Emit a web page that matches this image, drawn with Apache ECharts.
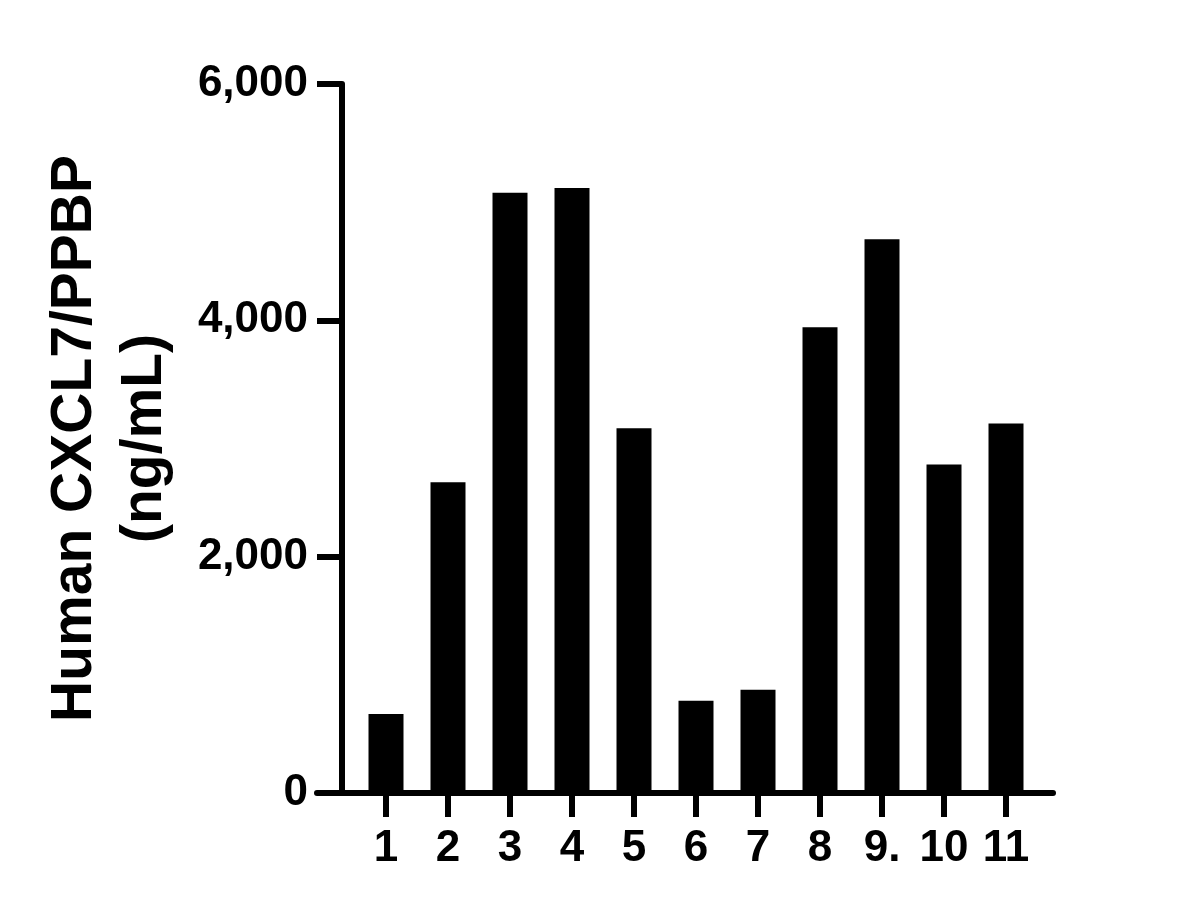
<!DOCTYPE html>
<html>
<head>
<meta charset="utf-8">
<script src="https://cdn.jsdelivr.net/npm/echarts@6/dist/echarts.min.js"></script>
<style>
html,body{margin:0;padding:0;background:#fff;}
#chart{width:1189px;height:909px;}
</style>
</head>
<body>
<div id="chart"></div>
<script>
const categories = ['1', '2', '3', '4', '5', '6', '7', '8', '9.', '10', '11'];
const values = [669, 2630, 5079, 5119, 3087, 780, 873, 3941, 4686, 2780, 3127];
const yTicks = [0, 2000, 4000, 6000];
const yTitle = 'Human CXCL7/PPBP\n(ng/mL)';

const positions = categories.map((c, i) => i + 1);
const FONT = '"Liberation Sans", Arial, Helvetica, sans-serif';

const chart = echarts.init(document.getElementById('chart'), null, {renderer: 'canvas'});
chart.setOption({
  animation: false,
  backgroundColor: '#ffffff',
  grid: {left: 317, right: 136, top: 84, bottom: 116, containLabel: false, outerBoundsMode: 'none'},
  xAxis: {
    type: 'value',
    min: -0.113,
    max: 11.758,
    splitLine: {show: false},
    axisLine: {show: true, onZero: true, lineStyle: {color: '#000', width: 6}},
    axisTick: {show: true, length: 24, lineStyle: {color: '#000', width: 6}, customValues: positions},
    axisLabel: {
      show: true, margin: 34, color: '#000', fontSize: 44, fontWeight: 'bold', fontFamily: FONT,
      customValues: positions,
      formatter: v => categories[Math.round(v) - 1] || ''
    }
  },
  yAxis: {
    type: 'value',
    min: yTicks[0],
    max: yTicks[yTicks.length - 1],
    interval: 2000,
    offset: -25,
    splitLine: {show: false},
    axisLine: {show: true, onZero: false, lineStyle: {color: '#000', width: 6}},
    axisTick: {show: true, length: 25, lineStyle: {color: '#000', width: 6}},
    axisLabel: {
      show: true, margin: 34, color: '#000', fontSize: 44, fontWeight: 'bold', fontFamily: FONT,
      formatter: v => v.toLocaleString('en-US')
    },
    name: yTitle,
    nameLocation: 'middle',
    nameRotate: 90,
    nameGap: 162,
    nameTextStyle: {color: '#000', fontSize: 57, fontWeight: 'bold', fontFamily: FONT, lineHeight: 70, align: 'center'}
  },
  series: [{
    type: 'bar',
    barWidth: 35,
    itemStyle: {color: '#000'},
    data: values.map((v, i) => [positions[i], v])
  }]
});
</script>
</body>
</html>
